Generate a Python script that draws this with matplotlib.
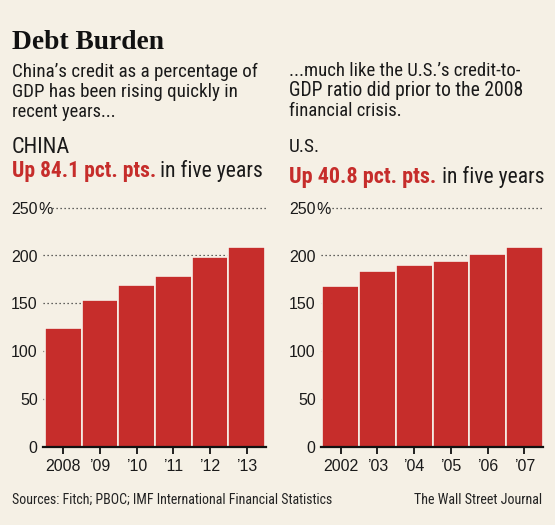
import matplotlib
matplotlib.use("Agg")
import matplotlib.pyplot as plt
from matplotlib import font_manager
from matplotlib.transforms import blended_transform_factory

# ---------------- data ----------------
china_years = ["2008", "’09", "’10", "’11", "’12", "’13"]
china_values = [124.6, 153.6, 169.6, 179.0, 198.0, 208.7]
us_years = ["2002", "’03", "’04", "’05", "’06", "’07"]
us_values = [168.4, 183.4, 190.0, 194.6, 201.5, 209.2]
y_ticks = [0, 50, 100, 150, 200, 250]
y_tick_labels = ["0", "50", "100", "150", "200", "250"]

title = "Debt Burden"
left_sub = ["China’s credit as a percentage of",
            "GDP has been rising quickly in",
            "recent years..."]
right_sub = ["...much like the U.S.’s credit-to-",
             "GDP ratio did prior to the 2008",
             "financial crisis."]
left_head = "CHINA"
right_head = "U.S."
left_red = "Up 84.1 pct. pts."
right_red = "Up 40.8 pct. pts."
tail = "in five years"
source = "Sources: Fitch; PBOC; IMF International Financial Statistics"
credit = "The Wall Street Journal"

# ---------------- style ----------------
BG = "#F5F0E5"
RED = "#C62D2B"
TXT = "#1a1a1a"
W, H = 555, 525

avail = {f.name for f in font_manager.fontManager.ttflist}
def pick(cands):
    for c in cands:
        if c in avail:
            return c
    return "DejaVu Sans"

SANS = pick(["Liberation Sans Narrow", "Roboto Condensed", "Open Sans Condensed",
             "Liberation Sans", "Roboto"])
TICKF = pick(["Liberation Sans", "Roboto", "DejaVu Sans"])
SERIF = pick(["Liberation Serif", "DejaVu Serif"])

plt.rcParams["font.family"] = [SANS, "DejaVu Sans"]

fig = plt.figure(figsize=(W / 100, H / 100), dpi=100, facecolor=BG)
renderer = fig.canvas.get_renderer()


def fit_text(x, base, s, right, size0=12, **kw):
    """Place text with left edge at x px and baseline at base px,
    scaling the font so that it ends at `right` px."""
    t = fig.text(x / W, 1 - base / H, s, va="baseline", ha="left",
                 fontsize=size0, **kw)
    bb = t.get_window_extent(renderer=renderer)
    target = right - x
    if bb.width > 0:
        t.set_fontsize(size0 * target / bb.width)
    return t


# Header texts
fit_text(12, 49.3, title, 164, size0=20, family=[SERIF], weight="bold", color="#111")
for i, line in enumerate(left_sub):
    ends = [256.7, 237.7, 115.0]
    fit_text(12, 76.7 + 20 * i, line, ends[i], color=TXT)
for i, line in enumerate(right_sub):
    ends = [520.0, 523.3, 401.0]
    fit_text(289, 76.3 + 20 * i, line, ends[i], color=TXT)

fit_text(12, 153.3, left_head, 70, color=TXT)
fit_text(289, 152.0, right_head, 320, color=TXT)

fit_text(12, 177.5, left_red, 155.3, color=RED, weight="bold")
fit_text(160, 177.5, tail, 263.3, color=TXT)
fit_text(289, 182.5, right_red, 436, color=RED, weight="bold")
fit_text(441.7, 182.5, tail, 544, color=TXT)

fit_text(12, 504, source, 332, color="#222")
fit_text(414, 504, credit, 542, color="#222")

TICK_PAD_PT = 3.8


def make_panel(ax_left_px, ax_right_px, bar_left_px, bar_right_px,
               cats, vals, grid250_start_px):
    top_px, bot_px = 207.7, 446.7
    ax = fig.add_axes([ax_left_px / W, 1 - bot_px / H,
                       (ax_right_px - ax_left_px) / W, (bot_px - top_px) / H])
    ax.set_facecolor("none")
    n = len(vals)
    unit = (bar_right_px - bar_left_px) / n
    xmin = -0.5 - (bar_left_px - ax_left_px) / unit
    xmax = n - 0.5 + (ax_right_px - bar_right_px) / unit
    ax.set_xlim(xmin, xmax)
    ax.set_ylim(0, 250)
    xs = list(range(n))
    # dotted gridlines behind bars
    for yv in y_ticks[1:]:
        if yv == 250:
            x0 = xmin + (grid250_start_px - ax_left_px) / unit
        else:
            x0 = xmin
        ax.plot([x0, xmax], [yv, yv], linestyle=(0, (1, 2.2)), color="#333",
                linewidth=0.9, zorder=1, clip_on=False)
    ax.bar(xs, vals, width=1.0, color=RED, edgecolor="#F7F1E8",
           linewidth=1.2, zorder=2)
    for s in ["top", "right", "left"]:
        ax.spines[s].set_visible(False)
    ax.spines["bottom"].set_linewidth(1.6)
    ax.spines["bottom"].set_color("#111")
    ax.spines["bottom"].set_zorder(3)
    ax.set_xticks(xs)
    ax.set_xticklabels(cats, family=[TICKF, "DejaVu Sans"], fontsize=11.5, color=TXT)
    ax.tick_params(axis="x", length=5, width=1.3, color="#111", pad=4)
    ax.set_yticks(y_ticks)
    ax.set_yticklabels(y_tick_labels, family=[TICKF, "DejaVu Sans"], fontsize=11.5,
                       color=TXT)
    ax.tick_params(axis="y", length=0, pad=TICK_PAD_PT)
    # percent sign right after the top label
    tr = blended_transform_factory(ax.transAxes, ax.transData)
    pad_px = TICK_PAD_PT * 100 / 72
    ax.text(-(pad_px - 0.3) / (ax_right_px - ax_left_px), 250, "%", transform=tr,
            ha="left", va="center_baseline", fontsize=11.5,
            family=[TICKF, "DejaVu Sans"], color=TXT)
    return ax


make_panel(43, 266, 45, 265, china_years, china_values, 52)
make_panel(321, 543, 322.3, 542.7, us_years, us_values, 328)

fig.savefig("out.png", dpi=100, facecolor=BG)
